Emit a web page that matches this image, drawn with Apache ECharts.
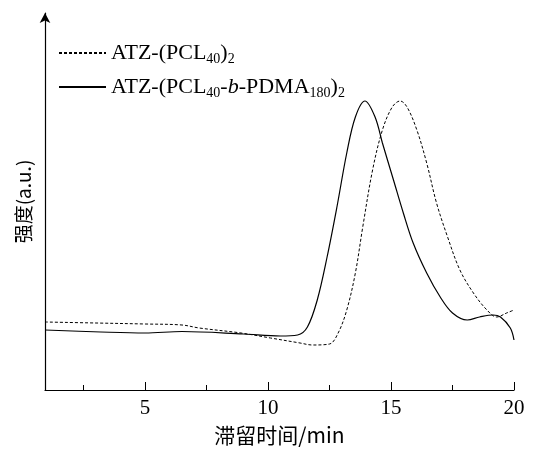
<!DOCTYPE html>
<html>
<head>
<meta charset="utf-8">
<script src="https://cdn.jsdelivr.net/npm/echarts@6/dist/echarts.min.js"></script>
<style>
  html, body { margin: 0; padding: 0; background: #fff; }
  #main { width: 538px; height: 451px; }
</style>
</head>
<body>
<div id="main"></div>
<script>
// 保留时间 (min) 和 强度 (任意单位)
var pclTime = [0.93, 3.0, 5.0, 6.5, 7.2, 8.9, 10.1, 11.3, 11.8, 12.5, 12.85, 13.2, 13.55, 13.85, 14.25, 14.65, 15.05, 15.37, 15.65, 16.05, 16.45, 16.85, 17.3, 17.8, 18.35, 18.9, 19.3, 19.7, 20.0];
var pclVal  = [68, 67, 66, 65, 62, 57, 52, 47, 45, 46, 57, 80, 117, 163, 220, 260, 283, 289, 283, 260, 227, 187, 153, 120, 97, 80, 73, 77, 80];

var blockTime = [0.93, 3.2, 5.0, 6.5, 9.0, 10.5, 11.2, 11.6, 12.0, 12.4, 12.8, 13.2, 13.55, 13.94, 14.35, 14.65, 15.1, 15.5, 15.9, 16.45, 17.0, 17.5, 18.1, 18.6, 19.15, 19.45, 19.85, 20.0];
var blockVal  = [60, 58, 57, 58.5, 56, 54, 55, 63, 90, 133, 183, 237, 273, 289, 273, 247, 210, 177, 147, 117, 93, 77, 70, 73, 75, 73, 62, 50];

var majorTicks = [5, 10, 15, 20];
var minorTicks = [2.5, 7.5, 12.5, 17.5];

var names = ['ATZ-(PCL40)2', 'ATZ-(PCL40-b-PDMA180)2'];

function pairs(xs, ys) {
  return xs.map(function (x, i) { return [x, ys[i]]; });
}

var myChart = echarts.init(document.getElementById('main'));

var font = '"Liberation Serif", "Times New Roman", serif';

var option = {
  animation: false,
  backgroundColor: '#fff',
  grid: { left: 45, right: 24, top: 13, bottom: 61 },
  legend: {
    orient: 'vertical',
    left: 53,
    top: 35,
    itemWidth: 47,
    itemHeight: 14,
    itemGap: 8,
    data: names,
    itemStyle: { opacity: 0 },
    formatter: function (name) {
      if (name === names[0]) {
        return 'ATZ-(PCL{s|40})' + '{s|2}';
      }
      return 'ATZ-(PCL{s|40}-{i|b}-PDMA{s|180})' + '{s|2}';
    },
    textStyle: {
      color: '#000',
      fontFamily: font,
      fontSize: 22,
      lineHeight: 26,
      rich: {
        s: { fontSize: 14, fontFamily: font, verticalAlign: 'bottom', lineHeight: 15, color: '#000' },
        i: { fontSize: 22, fontFamily: font, fontStyle: 'italic', color: '#000' }
      }
    }
  },
  xAxis: [
    {
      type: 'value',
      min: 0.93,
      max: 20,
      name: '滞留时间/min',
      nameLocation: 'middle',
      nameGap: 35,
      nameTextStyle: { fontFamily: '"Noto Sans CJK SC", ' + font, fontSize: 21, color: '#000' },
      axisLine: { lineStyle: { color: '#000', width: 1.2 } },
      axisTick: { inside: true, length: 8, customValues: majorTicks, lineStyle: { color: '#000' } },
      axisLabel: { customValues: majorTicks, margin: 8, fontFamily: font, fontSize: 21, color: '#000' },
      splitLine: { show: false }
    },
    {
      type: 'value',
      position: 'bottom',
      min: 0.93,
      max: 20,
      axisLine: { show: false },
      axisTick: { inside: true, length: 5, customValues: minorTicks, lineStyle: { color: '#000' } },
      axisLabel: { show: false },
      splitLine: { show: false }
    }
  ],
  yAxis: {
    type: 'value',
    min: 0,
    max: 377,
    name: '强度(a.u.)',
    nameLocation: 'middle',
    nameGap: 12,
    nameRotate: 90,
    nameTextStyle: { fontFamily: '"Noto Sans CJK SC", ' + font, fontSize: 19, color: '#000' },
    axisLine: {
      show: true,
      symbol: ['none', 'arrow'],
      symbolSize: [8, 10],
      lineStyle: { color: '#000', width: 1.2 }
    },
    axisTick: { show: false },
    axisLabel: { show: false },
    splitLine: { show: false }
  },
  series: [
    {
      name: names[0],
      type: 'line',
      smooth: 0.35,
      showSymbol: false,
      symbol: 'none',
      data: pairs(pclTime, pclVal),
      lineStyle: { color: '#000', width: 1, type: [3, 2] },
      itemStyle: { color: '#000' }
    },
    {
      name: names[1],
      type: 'line',
      smooth: 0.35,
      showSymbol: false,
      symbol: 'none',
      data: pairs(blockTime, blockVal),
      lineStyle: { color: '#000', width: 1.2 },
      itemStyle: { color: '#000' }
    }
  ]
};

myChart.setOption(option);
</script>
</body>
</html>
